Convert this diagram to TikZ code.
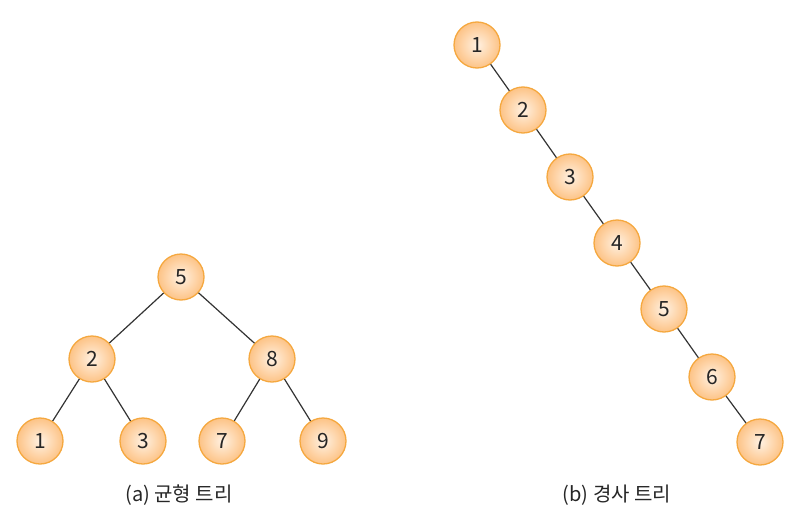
\documentclass[tikz,border=0pt]{standalone}
\usepackage{fontspec}
\setmainfont{Noto Sans CJK KR}
\definecolor{nborder}{HTML}{F5A83F}
\definecolor{ninner}{HTML}{FFF1E2}
\definecolor{nouter}{HTML}{FDC386}
\definecolor{edgec}{HTML}{333333}
\begin{document}
\begin{tikzpicture}[x=1pt,y=-1pt,
  tn/.style={circle,minimum size=46pt,inner sep=0pt,draw=nborder,line width=1.3pt,
    inner color=ninner,outer color=nouter,font=\fontsize{21}{21}\selectfont,text=black!85},
  ed/.style={draw=edgec,line width=1.2pt},
  captxt/.style={font=\fontsize{20}{20}\selectfont,text=black!85}]
\useasboundingbox (0,0) rectangle (802,524);
% (a)
\node[tn] (a5) at (181,277) {5};
\node[tn] (a2) at (92,359) {2};
\node[tn] (a8) at (272,359) {8};
\node[tn] (a1) at (40,441) {1};
\node[tn] (a3) at (143,441) {3};
\node[tn] (a7) at (222,441) {7};
\node[tn] (a9) at (323,441) {9};
\draw[ed] (a5)--(a2); \draw[ed] (a5)--(a8);
\draw[ed] (a2)--(a1); \draw[ed] (a2)--(a3);
\draw[ed] (a8)--(a7); \draw[ed] (a8)--(a9);
\node[captxt] (capa) at (179,495) {(a) 균형 트리};
% (b)
\node[tn] (b1) at (477,45) {1};
\node[tn] (b2) at (523,110) {2};
\node[tn] (b3) at (570,177) {3};
\node[tn] (b4) at (617,243) {4};
\node[tn] (b5) at (664,309) {5};
\node[tn] (b6) at (712,377) {6};
\node[tn] (b7) at (760,442) {7};
\draw[ed] (b1)--(b2); \draw[ed] (b2)--(b3); \draw[ed] (b3)--(b4);
\draw[ed] (b4)--(b5); \draw[ed] (b5)--(b6); \draw[ed] (b6)--(b7);
\node[captxt] (capb) at (617,495) {(b) 경사 트리};
\end{tikzpicture}
\end{document}
